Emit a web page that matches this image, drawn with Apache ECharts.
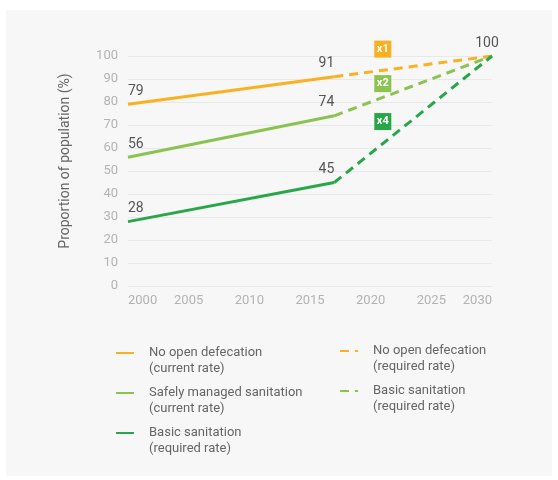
<!DOCTYPE html>
<html>
<head>
<meta charset="utf-8">
<script src="https://cdn.jsdelivr.net/npm/echarts@6/dist/echarts.min.js"></script>
<style>
  html, body { margin: 0; padding: 0; background: #fff; }
  #main { width: 558px; height: 480px; }
</style>
</head>
<body>
<div id="main"></div>
<script>
// data
var noOpenCurrent = [[2000, 79], [2017, 91]];
var noOpenRequired = [[2017, 91], [2030, 100]];
var safelyCurrent = [[2000, 56], [2017, 74]];
var safelyRequired = [[2017, 74], [2030, 100]];
var basicCurrent = [[2000, 28], [2017, 45]];
var basicRequired = [[2017, 45], [2030, 100]];
var badges = [['x1', 2021, 103], ['x2', 2021, 88], ['x4', 2021, 71.5]];
var legendLeft = ['No open defecation\n(current rate)', 'Safely managed sanitation\n(current rate)', 'Basic sanitation\n(required rate)'];
var legendRight = ['No open defecation\n(required rate)', 'Basic sanitation\n(required rate) '];

var ORANGE = '#f9b122';
var LIGHT = '#8cc34f';
var DARK = '#27a74a';

// 1. 实例化对象
var myChart = echarts.init(document.getElementById('main'));

function lineSeries (name, data, color, dashed, aligns) {
  return {
    name: name,
    type: 'line',
    showSymbol: true,
    symbol: 'circle',
    symbolSize: 0,
    lineStyle: { color: color, width: 3, type: dashed ? [9, 6] : 'solid' },
    itemStyle: { color: color },
    data: data.map(function (d, i) {
      if (!aligns || !aligns[i]) return { value: d };
      return {
        value: d,
        label: {
          show: true, position: 'top', align: aligns[i], distance: 6,
          offset: aligns[i] === 'center' ? [-5, 0] : [0, 0],
          color: '#555', fontSize: 14
        }
      };
    }),
    z: dashed ? 2 : 3
  };
}

// legend: icon on first line, text pushed right
function legendText (name) {
  return '{t| }\n' + name.split('\n').map(function (s) {
    return '{t|' + s + '}';
  }).join('\n');
}
var legendBase = {
  orient: 'vertical',
  itemWidth: 18,
  itemHeight: 14,
  itemGap: -8,
  formatter: legendText,
  itemStyle: { opacity: 0 },
  textStyle: {
    color: '#666', fontSize: 13, lineHeight: 16,
    rich: { t: { color: '#666', fontSize: 13, lineHeight: 16, padding: [0, 0, 0, 10] } }
  },
  selectedMode: false
};

// 2.指定配置
var option = {
  backgroundColor: '#fff',
  textStyle: { fontFamily: 'Roboto' },
  graphic: [{
    type: 'rect',
    shape: { x: 6, y: 10, width: 546, height: 466 },
    style: { fill: '#f7f7f7' },
    z: -10
  }],
  grid: { left: 128, right: 66, top: 56, bottom: 194 },
  xAxis: {
    type: 'value',
    min: 2000,
    max: 2030,
    interval: 5,
    axisLine: { show: false },
    axisTick: { show: false },
    splitLine: { show: false },
    axisLabel: {
      color: '#b3b3b3', fontSize: 13, margin: 8,
      alignMinLabel: 'left', alignMaxLabel: 'right',
      formatter: function (v) { return String(v); }
    }
  },
  yAxis: {
    type: 'value',
    min: 0,
    max: 100,
    interval: 10,
    name: 'Proportion of population (%)',
    nameLocation: 'middle',
    nameGap: 56,
    nameTextStyle: { color: '#666', fontSize: 14, padding: [0, 0, 0, 20] },
    axisLine: { show: false },
    axisTick: { show: false },
    axisLabel: { color: '#b3b3b3', fontSize: 13, margin: 10 },
    splitLine: { lineStyle: { color: '#e8e8e8', width: 1 } }
  },
  legend: [
    Object.assign({}, legendBase, { data: legendLeft, left: 110, top: 324 }),
    Object.assign({}, legendBase, { data: legendRight, left: 334, top: 322 })
  ],
  series: [
    lineSeries(legendRight[0], noOpenRequired, ORANGE, true, [null, 'center']),
    lineSeries(legendRight[1], safelyRequired, LIGHT, true),
    lineSeries('basic dashed', basicRequired, DARK, true),
    lineSeries(legendLeft[0], noOpenCurrent, ORANGE, false, ['left', 'right']),
    lineSeries(legendLeft[1], safelyCurrent, LIGHT, false, ['left', 'right']),
    lineSeries(legendLeft[2], basicCurrent, DARK, false, ['left', 'right']),
    {
      type: 'scatter',
      symbol: 'rect',
      symbolSize: 17,
      silent: true,
      clip: false,
      data: badges.map(function (b, i) {
        return {
          value: [b[1], b[2]],
          itemStyle: { color: [ORANGE, LIGHT, DARK][i], opacity: 1 },
          label: {
            show: true, position: 'inside', formatter: b[0],
            color: '#fff', fontSize: 11, fontWeight: 'bold'
          }
        };
      }),
      z: 5
    }
  ]
};
// 3. 把配置给实例对象
myChart.setOption(option);
// 4. 让图表跟随屏幕自动的去适应
window.addEventListener('resize', function () {
  myChart.resize();
});
</script>
</body>
</html>
